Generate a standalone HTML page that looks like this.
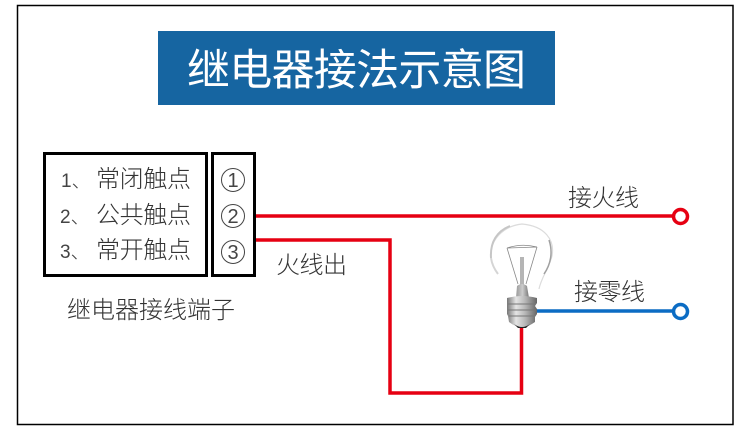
<!DOCTYPE html>
<html><head><meta charset="utf-8">
<style>
html,body{margin:0;padding:0;background:#fff;}
svg{display:block;}
text{font-family:"Liberation Sans","Noto Sans CJK SC",sans-serif;}
.t{font-size:24px;fill:#333;font-family:"Liberation Sans","Noto Sans CJK SC",sans-serif;font-weight:300;}
.n{font-size:19px;fill:#444;font-family:"Liberation Sans","Noto Sans CJK SC",sans-serif;font-weight:300;}
</style></head>
<body>
<svg width="750" height="438" viewBox="0 0 750 438" xmlns="http://www.w3.org/2000/svg">
<defs>
<linearGradient id="base" x1="0" x2="1" y1="0" y2="0">
<stop offset="0" stop-color="#777"/><stop offset=".3" stop-color="#e4e4e4"/><stop offset=".6" stop-color="#b8b8b8"/><stop offset="1" stop-color="#666"/>
</linearGradient>
<linearGradient id="neck" x1="0" x2="1" y1="0" y2="0">
<stop offset="0" stop-color="#999"/><stop offset=".5" stop-color="#ccc"/><stop offset="1" stop-color="#777"/>
</linearGradient>
</defs>
<rect width="750" height="438" fill="#fff"/>
<rect x="17.500" y="5.500" width="715.500" height="419" fill="none" stroke="#000" stroke-width="1.500"/>
<rect x="158" y="31" width="397" height="74" fill="#1665a1"/>
<text x="187" y="85" font-size="43" fill="#fff" textLength="339" lengthAdjust="spacing">继电器接法示意图</text>

<rect x="44.500" y="153.500" width="162" height="122" fill="none" stroke="#000" stroke-width="3"/>
<rect x="212.500" y="153.500" width="42" height="122" fill="none" stroke="#000" stroke-width="3"/>

<text class="n" x="61" y="187">1、</text>
<text class="n" x="60" y="223">2、</text>
<text class="n" x="60" y="258">3、</text>
<text class="t" x="96" y="187" textLength="95" lengthAdjust="spacing">常闭触点</text>
<text class="t" x="96" y="223" textLength="95" lengthAdjust="spacing">公共触点</text>
<text class="t" x="96" y="258" textLength="95" lengthAdjust="spacing">常开触点</text>
<circle cx="233" cy="180" r="11.500" fill="none" stroke="#444" stroke-width="1"/>
<circle cx="233" cy="216" r="11.500" fill="none" stroke="#444" stroke-width="1"/>
<circle cx="233" cy="252" r="11.500" fill="none" stroke="#444" stroke-width="1"/>
<text x="233" y="187" text-anchor="middle" style="font-size:20px;fill:#444">1</text>
<text x="233" y="223" text-anchor="middle" style="font-size:20px;fill:#444">2</text>
<text x="233" y="259" text-anchor="middle" style="font-size:20px;fill:#444">3</text>
<text class="t" x="67" y="318" textLength="168" lengthAdjust="spacing">继电器接线端子</text>

<path d="M256 216H673" fill="none" stroke="#e60012" stroke-width="3.500"/>
<circle cx="680.500" cy="216.500" r="7" fill="#fff" stroke="#e60012" stroke-width="3.500"/>
<path d="M256 240H390V393H521.500V325" fill="none" stroke="#e60012" stroke-width="3.500"/>
<path d="M535 311H673" fill="none" stroke="#0b6cc4" stroke-width="3.500"/>
<circle cx="680.500" cy="311.500" r="7" fill="#fff" stroke="#0b6cc4" stroke-width="3.500"/>

<text class="t" x="568" y="206" textLength="71" lengthAdjust="spacing">接火线</text>
<text class="t" x="574" y="300" textLength="71" lengthAdjust="spacing">接零线</text>
<text class="t" x="276" y="273" textLength="71" lengthAdjust="spacing">火线出</text>

<!-- bulb -->
<path d="M539 289C541 278 549 268 552 256C555 240 545 226 522 224C503 226 491 240 491 254" fill="none" stroke="#dcdcdc" stroke-width="1.200"/>
<path d="M491 258C490 242 497 231 510 226" fill="none" stroke="#c6c6c6" stroke-width="2"/>
<path d="M491 258C492 265 495 270 498 274" fill="none" stroke="#d5d5d5" stroke-width="2"/>
<path d="M549 240C553 252 551 264 544 274" fill="none" stroke="#a0a0a0" stroke-width="1.500"/>
<path d="M507 248L537 247M507 248L518 284M537 247L526 284M507 248Q522 243 537 247" fill="none" stroke="#888" stroke-width="0.800"/>
<rect x="520" y="257" width="4" height="28" fill="#b5b5b5"/>
<path d="M516 298L517 286Q522 282 527 286L529 298Z" fill="url(#neck)"/>
<path d="M507 298Q522 294 537 298V303L535 306L537 309V314L535 317L535 322Q526 328 522 328Q517 328 509 322L508 316L507 314V309L507 304Z" fill="url(#base)"/>
<path d="M508 304H536M508 310H536M509 316H535" stroke="#777" stroke-width="1"/>
<path d="M514 324Q522 330 530 324L526 328H518Z" fill="#222"/>
</svg>
</body></html>
